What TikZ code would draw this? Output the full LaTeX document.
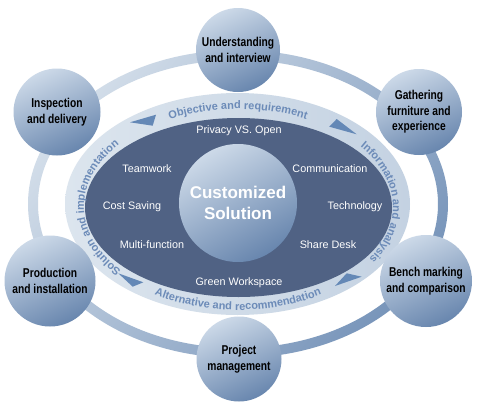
\documentclass[tikz,border=0pt]{standalone}
\usepackage{fontspec}
\setmainfont{Liberation Sans}
\newfontfamily\cndfont[FakeStretch=0.8]{Liberation Sans}
\usetikzlibrary{decorations.text}

\definecolor{darkfill}{RGB}{80,98,132}
\definecolor{bandlight}{RGB}{220,229,238}
\definecolor{banddark}{RGB}{196,210,226}
\definecolor{ringlight}{RGB}{210,221,233}
\definecolor{ringdark}{RGB}{120,149,186}
\definecolor{balllight}{RGB}{204,217,232}
\definecolor{balldark}{RGB}{104,134,174}
\definecolor{ringtext}{RGB}{108,139,184}
\definecolor{arrowblue}{RGB}{100,136,182}

\newcommand\ringfont{\bfseries\fontsize{11}{13}\selectfont}

\tikzset{
  stagenode/.style={circle, minimum size=#1, inner sep=0pt, align=center,
    top color=balllight, bottom color=balldark, shading angle=25,
    font=\cndfont\bfseries\fontsize{12.8}{15.6}\selectfont, text=black},
  corenode/.style={circle, minimum size=118pt, inner sep=0pt, align=center,
    top color=balllight, bottom color=balldark, shading angle=30,
    font=\bfseries\fontsize{17}{21}\selectfont, text=white},
  innerlabel/.style={font=\fontsize{10.8}{13}\selectfont, text=white, inner sep=0pt},
  ringlabel/.style={decorate, decoration={text along path, text align=center,
    text color=ringtext, text={|\ringfont|#1}}},
  flowarrow/.style={fill=arrowblue}
}

\begin{document}
\begin{tikzpicture}[x=1pt,y=1pt]
\useasboundingbox (0,0) rectangle (480,-410);
\fill[white] (0,0) rectangle (480,-410);

% outer ring
\shade[even odd rule, top color=ringlight, bottom color=ringdark, shading angle=50]
  (238,-204) ellipse (210pt and 154pt) (238,-204) ellipse (200pt and 144pt);

% light band and dark ellipse
\shade[left color=bandlight, right color=banddark] (237.5,-204) ellipse (172.5pt and 111pt);
\fill[darkfill] (238.5,-207.5) ellipse (153.5pt and 89.5pt);

% arrows in the band
\fill[flowarrow] (130,-122.3) -- (156,-114.7) -- (152.7,-125.7) -- cycle;
\fill[flowarrow] (329.3,-126.7) -- (336.7,-119) -- (356.7,-134.3) -- cycle;
\fill[flowarrow] (335,-286) -- (346.7,-273.3) -- (361.7,-276.7) -- cycle;
\fill[flowarrow] (118.3,-273.3) -- (143.3,-282.3) -- (132.7,-286.7) -- cycle;

% texts along the band
\path[ringlabel={Objective and requirement}]
  (238,-207) ++(150:154.5pt and 98pt) arc[start angle=150, end angle=30, x radius=154.5pt, y radius=98pt];
\path[ringlabel={Information and analysis}]
  (238,-207) ++(55:155pt and 98pt) arc[start angle=55, end angle=-50, x radius=155pt, y radius=98pt];
\path[ringlabel={Solution and implementation}]
  (238,-207) ++(233:154pt and 98pt) arc[start angle=233, end angle=128, x radius=154pt, y radius=98pt];
\path[ringlabel={Alternative and recommendation}]
  (238,-207) ++(200:158pt and 103pt) arc[start angle=200, end angle=340, x radius=158pt, y radius=103pt];

% inner labels
\node[innerlabel] (privacy) at (239,-131) {Privacy VS. Open};
\node[innerlabel] (teamwork) at (147,-169) {Teamwork};
\node[innerlabel] (communication) at (330,-169) {Communication};
\node[innerlabel] (costsaving) at (132,-207) {Cost Saving};
\node[innerlabel] (technology) at (355,-207) {Technology};
\node[innerlabel] (multifunction) at (152,-245) {Multi-function};
\node[innerlabel] (sharedesk) at (328,-245) {Share Desk};
\node[innerlabel] (green) at (239,-283) {Green Workspace};

% core
\node[corenode] (core) at (238,-203) {Customized\\Solution};

% stage circles
\node[stagenode=84pt] (understanding) at (238,-50) {Understanding\\and interview};
\node[stagenode=86pt] (gathering) at (419,-112) {Gathering\\furniture and\\experience};
\node[stagenode=92pt] (bench) at (426,-281) {Bench marking\\and comparison};
\node[stagenode=85pt] (project) at (239,-359) {Project\\management};
\node[stagenode=91pt] (production) at (50,-281) {Production\\and installation};
\node[stagenode=87pt] (inspection) at (57,-112) {Inspection\\and delivery};
\end{tikzpicture}
\end{document}
